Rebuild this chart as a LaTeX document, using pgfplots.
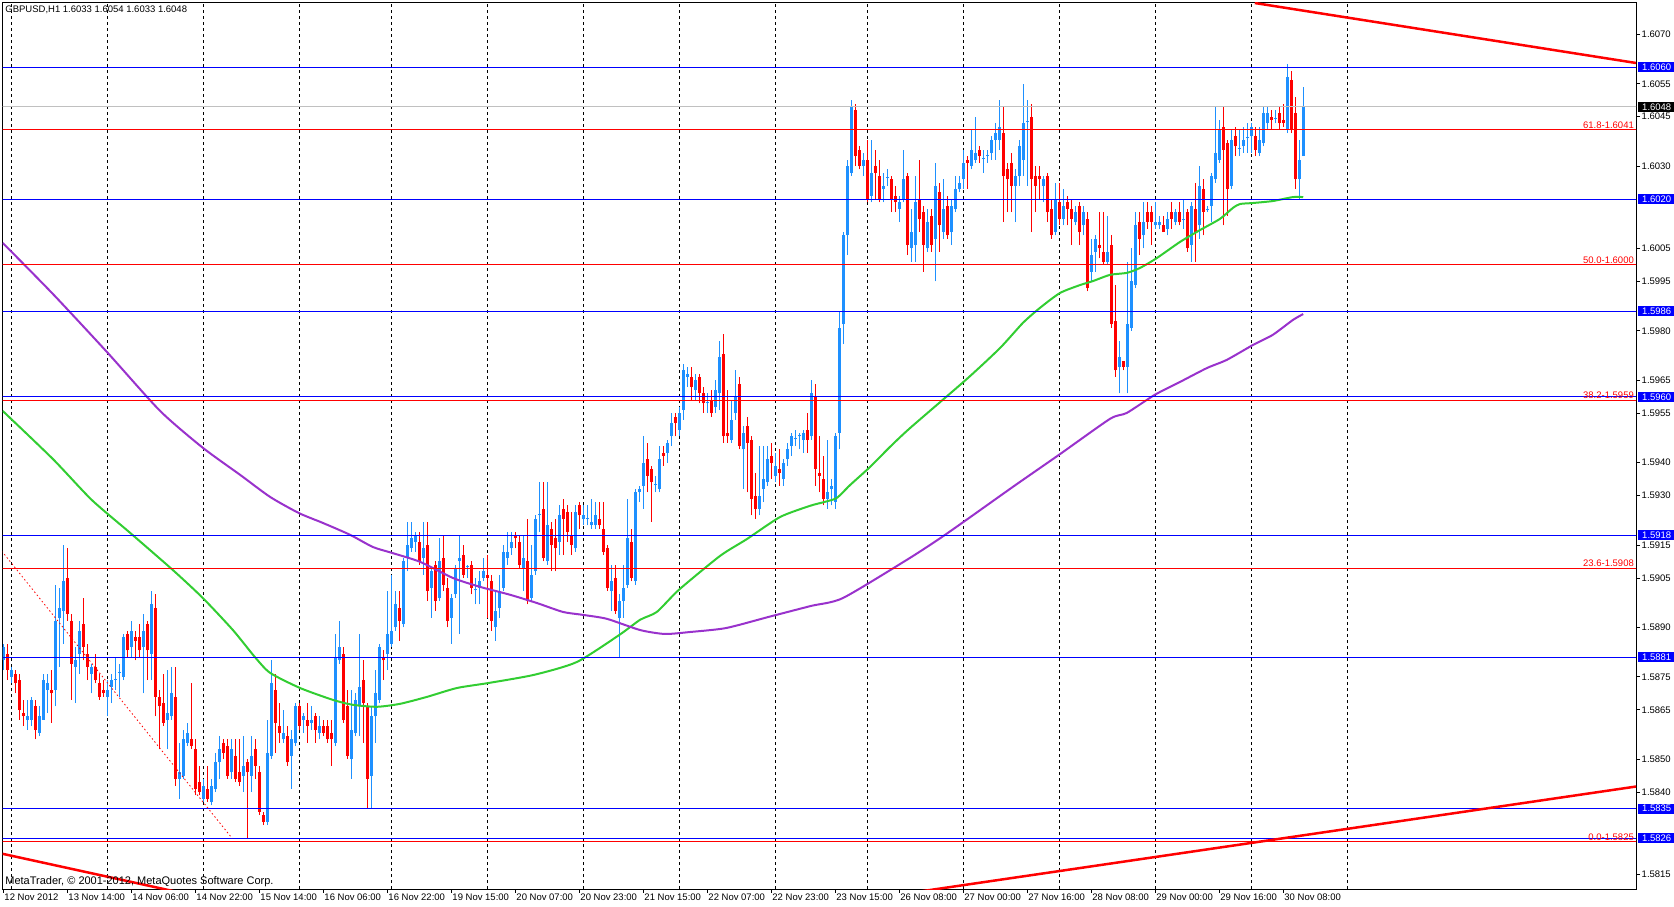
\documentclass[border=0pt]{standalone}
\usepackage{pgfplots}
\pgfplotsset{compat=1.18}
\usepackage{pgfplotstable}
\usepackage{fontspec}
\setmainfont{Liberation Sans}
\definecolor{upc}{RGB}{30,144,255}
\definecolor{dnc}{RGB}{255,0,0}
\definecolor{lvblue}{RGB}{0,0,255}
\definecolor{magreen}{RGB}{50,205,50}
\definecolor{mapurple}{RGB}{153,50,204}
\definecolor{bidgrey}{RGB}{192,192,192}
\newcommand\mtfont{\fontsize{9.5}{10}\selectfont}

\pgfplotstableread{
i o h l c
0 1.5880 1.5885 1.5877 1.5884
2 1.5875 1.5878 1.5873 1.5877
6 1.5862 1.5868 1.5859 1.5863
7 1.5862 1.5869 1.5860 1.5868
9 1.5858 1.5866 1.5857 1.5863
10 1.5862 1.5876 1.5862 1.5874
11 1.5871 1.5876 1.5864 1.5873
13 1.5871 1.5903 1.5866 1.5892
14 1.5893 1.5902 1.5878 1.5896
15 1.5895 1.5915 1.5885 1.5904
18 1.5878 1.5884 1.5867 1.5880
19 1.5882 1.5892 1.5876 1.5889
22 1.5876 1.5879 1.5870 1.5878
26 1.5869 1.5874 1.5863 1.5871
27 1.5872 1.5876 1.5867 1.5874
28 1.58741 1.5881 1.5871 1.58744
29 1.58763 1.5879 1.5869 1.58766
30 1.5875 1.5888 1.5874 1.5887
32 1.5884 1.5892 1.5881 1.5889
35 1.5884 1.5894 1.5870 1.5889
37 1.5882 1.5901 1.5874 1.5897
41 1.5862 1.5877 1.5853 1.5864
42 1.5863 1.5878 1.5862 1.5870
44 1.5844 1.5855 1.5838 1.5846
45 1.5845 1.5859 1.5844 1.5856
46 1.5855 1.5861 1.5854 1.5858
50 1.5838 1.5844 1.5837 1.5842
52 1.5837 1.5844 1.5836 1.5842
53 1.5841 1.5852 1.5840 1.5849
54 1.5849 1.5857 1.5844 1.5853
57 1.5846 1.5856 1.5844 1.5853
60 1.5845 1.5857 1.5840 1.5848
62 1.5845 1.5857 1.5840 1.5851
66 1.5831 1.5862 1.5830 1.5852
67 1.5851 1.5880 1.5850 1.5873
70 1.5856 1.5865 1.5855 1.5858
72 1.5851 1.5859 1.5841 1.5856
73 1.5855 1.5867 1.5854 1.5866
75 1.5862 1.5864 1.5858 1.5863
77 1.5861 1.5866 1.5859 1.5862
79 1.5858 1.5863 1.5856 1.5860
83 1.5855 1.5888 1.5854 1.5881
84 1.5880 1.5892 1.5879 1.5884
87 1.5850 1.5871 1.5844 1.5859
88 1.5858 1.5870 1.5857 1.5868
89 1.5866 1.5888 1.5857 1.5872
92 1.5845 1.5866 1.5835 1.5863
93 1.5863 1.5877 1.5855 1.5870
94 1.5868 1.5885 1.5867 1.5884
96 1.5882 1.5901 1.5877 1.5888
97 1.5885 1.5906 1.5884 1.5889
98 1.5890 1.5901 1.5889 1.5897
100 1.5891 1.5911 1.5890 1.5910
101 1.5911 1.5922 1.5907 1.5915
102 1.5914 1.5922 1.5913 1.5917
103 1.5916 1.5919 1.5913 1.5918
105 1.5911 1.5922 1.5906 1.5914
107 1.5902 1.5908 1.5893 1.5907
109 1.5899 1.5917 1.5898 1.5910
112 1.5893 1.5900 1.5885 1.5899
113 1.5900 1.5909 1.5899 1.5908
114 1.5910 1.5918 1.5888 1.5911
116 1.59083 1.5909 1.5905 1.59086
118 1.59012 1.5905 1.5897 1.59016
119 1.5902 1.5907 1.5897 1.5904
120 1.5905 1.5911 1.5904 1.5907
123 1.5890 1.5901 1.5886 1.5895
124 1.5896 1.5906 1.5893 1.5901
125 1.5902 1.5915 1.5901 1.5913
126 1.5911 1.5919 1.5909 1.5913
127 1.5914 1.5919 1.5912 1.5916
130 1.5908 1.5918 1.5901 1.5911
132 1.5899 1.5915 1.5898 1.5906
133 1.5907 1.5924 1.5906 1.5923
134 1.59241 1.5934 1.5919 1.59244
136 1.5910 1.5934 1.5909 1.5921
139 1.5916 1.5927 1.5912 1.5924
143 1.5914 1.5927 1.5913 1.5925
145 1.5923 1.5927 1.5921 1.5924
146 1.59230 1.5927 1.5921 1.59233
147 1.5921 1.5929 1.5920 1.5922
148 1.5921 1.5928 1.5920 1.5924
152 1.5901 1.5909 1.5895 1.5904
154 1.5893 1.5900 1.5881 1.5898
155 1.5898 1.5909 1.5893 1.5902
156 1.5903 1.5929 1.5902 1.5917
158 1.5904 1.5932 1.5903 1.5931
159 1.5931 1.5933 1.5928 1.5932
160 1.5933 1.5948 1.5926 1.5940
163 1.59332 1.5936 1.5931 1.59335
164 1.5932 1.5945 1.5931 1.5941
166 1.5943 1.5947 1.5940 1.5946
167 1.5948 1.5955 1.5945 1.5952
169 1.5950 1.5957 1.5948 1.5955
170 1.5956 1.5970 1.5953 1.5968
171 1.5966 1.5969 1.5963 1.5967
173 1.5962 1.5967 1.5959 1.5965
176 1.59580 1.5961 1.5955 1.59583
178 1.5957 1.5965 1.5955 1.5962
179 1.5961 1.5977 1.5956 1.5972
182 1.5947 1.5959 1.5946 1.5953
183 1.5955 1.5968 1.5953 1.5960
185 1.5944 1.5951 1.5932 1.5949
189 1.5926 1.5945 1.5924 1.5930
190 1.5932 1.5945 1.5928 1.5935
191 1.5934 1.5945 1.5933 1.5941
193 1.5936 1.5943 1.5934 1.5939
195 1.5935 1.5941 1.5933 1.5940
196 1.5941 1.5946 1.5939 1.5944
197 1.5945 1.5949 1.5942 1.5948
198 1.59471 1.5950 1.5945 1.59474
199 1.59480 1.5949 1.5944 1.59483
200 1.5947 1.5950 1.5943 1.5949
202 1.5948 1.5965 1.5947 1.5961
206 1.5929 1.5947 1.5926 1.5931
207 1.5932 1.5935 1.5927 1.5933
208 1.5928 1.5949 1.5926 1.5948
209 1.5949 1.5986 1.5944 1.5981
210 1.5982 1.6010 1.5976 1.6009
211 1.6009 1.6032 1.6003 1.6030
212 1.6028 1.6050 1.6027 1.6048
215 1.6030 1.6034 1.6027 1.6032
217 1.6021 1.6038 1.6019 1.6028
220 1.6023 1.6028 1.6019 1.6024
221 1.60265 1.6029 1.6024 1.60268
224 1.6017 1.6021 1.6013 1.6019
225 1.6020 1.6035 1.6019 1.6026
227 1.6005 1.6017 1.6001 1.6010
228 1.6006 1.6027 1.6001 1.6019
231 1.6005 1.6017 1.6004 1.6013
233 1.6008 1.6031 1.5995 1.6024
235 1.6010 1.6026 1.6008 1.6017
237 1.6010 1.6020 1.6006 1.6018
238 1.6017 1.6027 1.6016 1.6023
239 1.6023 1.6027 1.6022 1.6025
240 1.6026 1.6035 1.6023 1.6031
242 1.6030 1.6041 1.6029 1.6035
243 1.6032 1.6045 1.6031 1.6034
245 1.60322 1.6035 1.6028 1.60325
246 1.60332 1.6035 1.6031 1.60335
247 1.6034 1.6039 1.6032 1.6038
248 1.6038 1.6043 1.6032 1.6040
249 1.6038 1.6050 1.6035 1.6042
253 1.6024 1.6029 1.6013 1.6027
254 1.6027 1.6038 1.6024 1.6036
255 1.6032 1.6055 1.6027 1.6043
256 1.60434 1.6050 1.6024 1.60437
260 1.6024 1.6027 1.6019 1.6026
263 1.6010 1.6025 1.6009 1.6020
265 1.6014 1.6023 1.6012 1.6018
268 1.6013 1.6018 1.6012 1.6016
270 1.6012 1.6018 1.6009 1.6016
272 1.5998 1.6008 1.5995 1.6003
273 1.6004 1.6009 1.5998 1.6008
276 1.6001 1.6015 1.6000 1.6004
279 1.5969 1.5977 1.5961 1.5972
281 1.5969 1.6001 1.5961 1.5982
282 1.5981 1.6005 1.5980 1.5995
283 1.5994 1.6016 1.5993 1.6012
285 1.6009 1.6019 1.6005 1.6013
288 1.6012 1.6019 1.6011 1.6013
289 1.6012 1.6015 1.6011 1.6013
291 1.6011 1.6016 1.6009 1.6014
293 1.6013 1.6017 1.6012 1.6016
295 1.60136 1.6020 1.6011 1.60139
297 1.6006 1.6019 1.6001 1.6018
299 1.6012 1.6030 1.6008 1.6024
301 1.60166 1.6018 1.6016 1.60169
302 1.6018 1.6028 1.6013 1.6027
303 1.6026 1.6048 1.6025 1.6034
304 1.6032 1.6044 1.6031 1.6041
307 1.6024 1.6041 1.6023 1.6038
309 1.60353 1.6041 1.6033 1.60356
310 1.6036 1.6042 1.6034 1.6038
311 1.60384 1.6043 1.6034 1.60387
312 1.6039 1.6043 1.6034 1.6042
314 1.6034 1.6042 1.6033 1.6038
315 1.6037 1.6048 1.6036 1.6046
316 1.6043 1.6048 1.6041 1.6046
318 1.60443 1.6047 1.6043 1.60446
321 1.6041 1.6061 1.6040 1.6057
324 1.6026 1.6038 1.6020 1.6032
325 1.6033 1.6054 1.6033 1.6048
}\uptab

\pgfplotstableread{
i o h l c
1 1.5882 1.5885 1.5874 1.5877
3 1.5876 1.5877 1.5870 1.5873
4 1.5874 1.5876 1.5862 1.5865
5 1.5864 1.5868 1.5860 1.5863
8 1.5866 1.5868 1.5856 1.5859
12 1.5871 1.5877 1.5861 1.5870
16 1.5905 1.5914 1.5892 1.5894
17 1.5892 1.5894 1.5868 1.5879
20 1.5891 1.5899 1.5880 1.5884
21 1.5882 1.5885 1.5874 1.5878
23 1.5878 1.5882 1.5873 1.5874
24 1.5873 1.5876 1.5868 1.5869
25 1.5871 1.5874 1.5869 1.5870
31 1.5888 1.5889 1.5881 1.5883
33 1.5887 1.5889 1.5880 1.5886
34 1.5887 1.5891 1.5881 1.5883
36 1.5891 1.5892 1.5874 1.5883
38 1.5896 1.5900 1.5863 1.5869
39 1.5869 1.5871 1.5853 1.5866
40 1.5867 1.5876 1.5860 1.5861
43 1.5869 1.5878 1.5842 1.5844
47 1.5856 1.5873 1.5853 1.5854
48 1.5853 1.5856 1.5839 1.5841
49 1.5843 1.5848 1.5839 1.5840
51 1.5841 1.5848 1.5837 1.5838
55 1.5855 1.5856 1.5850 1.5852
56 1.5854 1.5856 1.5844 1.5845
58 1.5851 1.5856 1.5843 1.5844
59 1.5846 1.5856 1.5842 1.5843
61 1.5849 1.5850 1.5826 1.5846
63 1.5853 1.5856 1.5844 1.5848
64 1.5846 1.5848 1.5833 1.5834
65 1.5833 1.5834 1.5830 1.5831
68 1.5871 1.5876 1.5852 1.5861
69 1.5860 1.5867 1.5855 1.5858
71 1.5857 1.5860 1.5848 1.5849
74 1.5866 1.5867 1.5859 1.5860
76 1.5862 1.5867 1.5855 1.5860
78 1.5863 1.5864 1.5855 1.5859
80 1.5860 1.5862 1.5857 1.5858
81 1.5860 1.5862 1.5855 1.5856
82 1.5858 1.5862 1.5848 1.5856
85 1.5882 1.5884 1.5861 1.5862
86 1.5866 1.5871 1.5850 1.5851
90 1.5874 1.5880 1.5855 1.5867
91 1.5866 1.5867 1.5835 1.5844
95 1.5881 1.5883 1.5874 1.5880
99 1.5896 1.5901 1.5886 1.5892
104 1.5916 1.5919 1.5909 1.5910
106 1.5915 1.5922 1.5898 1.5901
108 1.5909 1.5910 1.5895 1.5898
110 1.5911 1.5918 1.5901 1.5903
111 1.5902 1.5905 1.5890 1.5892
115 1.5912 1.5915 1.5905 1.5906
117 1.5909 1.5910 1.5900 1.5902
121 1.5906 1.5912 1.5893 1.5905
122 1.5904 1.5906 1.5889 1.5892
128 1.5918 1.5919 1.5914 1.5917
129 1.5916 1.5918 1.5908 1.5909
131 1.5910 1.5923 1.5897 1.5898
135 1.5926 1.5934 1.5910 1.5911
137 1.5920 1.5922 1.5907 1.5915
138 1.5917 1.5923 1.5907 1.5914
140 1.5926 1.5929 1.5912 1.5923
141 1.5925 1.5927 1.5916 1.5919
142 1.5918 1.5925 1.5912 1.5915
144 1.5927 1.5928 1.5920 1.5924
149 1.5923 1.5928 1.5920 1.5921
150 1.5920 1.5928 1.5912 1.5913
151 1.5914 1.5915 1.5901 1.5902
153 1.5905 1.5909 1.5894 1.5895
157 1.5916 1.5920 1.5904 1.5905
161 1.5941 1.5946 1.5931 1.5936
162 1.5938 1.5939 1.5922 1.5934
165 1.5943 1.5945 1.5939 1.5942
168 1.5954 1.5955 1.5948 1.5952
172 1.5966 1.5969 1.5959 1.5963
174 1.5966 1.5967 1.5958 1.5961
175 1.5961 1.5963 1.5955 1.5958
177 1.5959 1.5962 1.5954 1.5955
180 1.5973 1.5979 1.5946 1.5948
181 1.5949 1.5962 1.5946 1.5948
184 1.5964 1.5966 1.5944 1.5945
186 1.5951 1.5954 1.5931 1.5946
187 1.5947 1.5948 1.5924 1.5929
188 1.5930 1.5937 1.5923 1.5926
192 1.5942 1.5946 1.5935 1.5940
194 1.5938 1.5944 1.5933 1.5937
201 1.5950 1.5955 1.5943 1.5947
203 1.5960 1.5964 1.5933 1.5938
204 1.5937 1.5948 1.5931 1.5936
205 1.5935 1.5942 1.5927 1.5929
213 1.6047 1.6049 1.6030 1.6033
214 1.6035 1.6036 1.6029 1.6030
216 1.6032 1.6038 1.6019 1.6020
218 1.6030 1.6035 1.6020 1.6028
219 1.6027 1.6032 1.6019 1.6020
222 1.6026 1.6027 1.6016 1.6020
223 1.6021 1.6024 1.6016 1.6019
226 1.6027 1.6028 1.6003 1.6006
229 1.6020 1.6032 1.6010 1.6014
230 1.6016 1.6018 1.5998 1.6006
232 1.6015 1.6017 1.6004 1.6006
234 1.6022 1.6025 1.6004 1.6012
236 1.6018 1.6021 1.6008 1.6009
241 1.6032 1.6033 1.6023 1.6031
244 1.6035 1.6036 1.6031 1.6033
250 1.6040 1.6048 1.6013 1.6027
251 1.6029 1.6031 1.6016 1.6026
252 1.6031 1.6034 1.6016 1.6024
257 1.6045 1.6049 1.6010 1.6026
258 1.6027 1.6030 1.6016 1.6024
259 1.6027 1.6030 1.6020 1.6026
261 1.6027 1.6028 1.6013 1.6016
262 1.6017 1.6020 1.6008 1.6009
264 1.6019 1.6025 1.6012 1.6014
266 1.6019 1.6021 1.6012 1.6017
267 1.6017 1.6020 1.6006 1.6014
269 1.6018 1.6019 1.6006 1.6010
271 1.6014 1.6016 1.5992 1.5993
274 1.6006 1.6016 1.6002 1.6005
275 1.6004 1.6016 1.6000 1.6001
277 1.6006 1.6009 1.5981 1.5982
278 1.5983 1.5994 1.5966 1.5968
280 1.5971 1.5971 1.5968 1.5969
284 1.6013 1.6016 1.6003 1.6008
286 1.6016 1.6019 1.6011 1.6013
287 1.6016 1.6018 1.6006 1.6013
290 1.6012 1.6015 1.6010 1.6010
292 1.6016 1.6019 1.6011 1.6014
294 1.6016 1.6019 1.6012 1.6013
296 1.6016 1.6017 1.6004 1.6005
298 1.6017 1.6025 1.6001 1.6010
300 1.6023 1.6026 1.6009 1.6016
305 1.6042 1.6048 1.6012 1.6035
306 1.6037 1.6038 1.6015 1.6023
308 1.6039 1.6042 1.6033 1.6036
313 1.6039 1.6042 1.6033 1.6035
317 1.6045 1.6047 1.6041 1.6044
319 1.6046 1.6048 1.6041 1.6043
320 1.6044 1.6049 1.6042 1.6043
322 1.6056 1.6059 1.6040 1.6041
323 1.6046 1.6051 1.6023 1.6026
}\dntab

\begin{document}
\begin{tikzpicture}[x=1pt,y=1pt]
\useasboundingbox (0,0) rectangle (1674,906);
\begin{axis}[
  at={(2.7pt,17pt)}, anchor=south west,
  scale only axis, width=1633.3pt, height=886.3pt,
  xmin=-0.15, xmax=408.2, ymin=1.58106, ymax=1.60796,
  clip mode=individual,
  axis line style={black, line width=1pt},
  xtick={0,16,...,320},
  xticklabels={12 Nov 2012,13 Nov 14:00,14 Nov 06:00,14 Nov 22:00,15 Nov 14:00,16 Nov 06:00,16 Nov 22:00,19 Nov 15:00,20 Nov 07:00,20 Nov 23:00,21 Nov 15:00,22 Nov 07:00,22 Nov 23:00,23 Nov 15:00,26 Nov 08:00,27 Nov 00:00,27 Nov 16:00,28 Nov 08:00,29 Nov 00:00,29 Nov 16:00,30 Nov 08:00},
  xtick pos=bottom, ytick pos=right,
  tick align=outside, major tick length=4pt,
  tick style={black, line width=0.8pt},
  xticklabel style={anchor=north west, inner sep=0pt, xshift=1pt, yshift=-1pt, font=\mtfont},
  ytick={1.6070,1.6055,1.6045,1.6030,1.6005,1.5995,1.5980,1.5965,1.5955,1.5940,1.5930,1.5915,1.5905,1.5890,1.5875,1.5865,1.5850,1.5840,1.5815},
  yticklabel pos=right,
  yticklabel style={anchor=west, inner sep=0pt, xshift=1.5pt, font=\mtfont,
    /pgf/number format/.cd, fixed, fixed zerofill, precision=4, assume math mode=true},
  scaled y ticks=false,
  extra x ticks={2,26,50,74,97,121,145,169,193,216,240,264,288,312,336},
  extra x tick labels={},
  extra x tick style={grid=major, major tick length=0pt,
    major grid style={black, line width=0.8pt, dash pattern=on 3pt off 3pt}},
]
% candles: wicks
\addplot[draw=none, mark=none, forget plot,
  error bars/.cd, y dir=plus, y explicit, error mark=none,
  error bar style={draw=upc, line width=1pt, solid}]
  table[x=i, y=l, y error plus expr=\thisrow{h}-\thisrow{l}] {\uptab};
\addplot[draw=none, mark=none, forget plot,
  error bars/.cd, y dir=plus, y explicit, error mark=none,
  error bar style={draw=dnc, line width=1pt, solid}]
  table[x=i, y=l, y error plus expr=\thisrow{h}-\thisrow{l}] {\dntab};
% candles: bodies
\addplot[draw=none, mark=none, forget plot,
  error bars/.cd, y dir=plus, y explicit, error mark=none,
  error bar style={draw=upc, line width=3pt, solid, line cap=butt}]
  table[x=i, y=o, y error plus expr=\thisrow{c}-\thisrow{o}] {\uptab};
\addplot[draw=none, mark=none, forget plot,
  error bars/.cd, y dir=plus, y explicit, error mark=none,
  error bar style={draw=dnc, line width=3pt, solid, line cap=butt}]
  table[x=i, y=c, y error plus expr=\thisrow{o}-\thisrow{c}] {\dntab};

% moving averages
\addplot[magreen, line width=2pt, mark=none, smooth, tension=0.4] coordinates {
(-0.15,1.59557) (12.4,1.59411) (22.1,1.59287) (31.7,1.59187) (42.4,1.59074) (49.9,1.58989)
(57.4,1.58892) (62.9,1.58810) (66.7,1.58762) (74.2,1.58716) (82.4,1.58680) (87.4,1.58665)
(93.4,1.58659) (99.2,1.58668) (105.9,1.58689) (113.4,1.58716) (121.2,1.58731) (132.7,1.58756)
(143.4,1.58795) (154.0,1.58877) (159.2,1.58923) (163.4,1.58947) (168.9,1.59014) (179.2,1.59117)
(185.9,1.59168) (194.2,1.59235) (201.7,1.59269) (205.4,1.59281) (208.4,1.59293) (211.7,1.59332)
(216.7,1.59387) (221.7,1.59448) (226.7,1.59505) (240.9,1.59654) (249.2,1.59748) (254.9,1.59824)
(259.2,1.59870) (264.2,1.59915) (269.2,1.59939) (272.4,1.59951) (276.7,1.59970) (280.9,1.59976)
(284.2,1.59991) (288.4,1.60021) (294.2,1.60070) (299.2,1.60106) (304.2,1.60140) (307.4,1.60173)
(309.2,1.60185) (312.4,1.60188) (317.4,1.60194) (322.4,1.60206) (325,1.60206)};
\addplot[mapurple, line width=2pt, mark=none, smooth, tension=0.4] coordinates {
(-0.15,1.60067) (12.4,1.59912) (25.9,1.59736) (39.2,1.59557) (49.9,1.59445) (59.2,1.59363)
(66.7,1.59296) (73.9,1.59247) (79.9,1.59217) (86.7,1.59181) (92.4,1.59144) (97.2,1.59126)
(104.2,1.59099) (112.4,1.59050) (119.2,1.59023) (126.7,1.58999) (133.4,1.58974) (139.9,1.58947)
(144.9,1.58938) (150.9,1.58926) (159.2,1.58892) (165.4,1.58880) (171.7,1.58886) (180.7,1.58898)
(191.4,1.58932) (201.9,1.58965) (209.9,1.58989) (225.9,1.59105) (233.9,1.59168) (240.4,1.59223)
(252.7,1.59329) (264.2,1.59426) (276.7,1.59533) (280.9,1.59551) (287.9,1.59606) (294.2,1.59645)
(300.9,1.59687) (305.9,1.59712) (312.4,1.59757) (317.4,1.59788) (322.4,1.59833) (325,1.59851)};

% horizontal levels
\addplot[bidgrey, line width=1pt] coordinates {(-1,1.6048) (409,1.6048)};
\addplot[red, line width=1pt] coordinates {(-1,1.6041) (409,1.6041)};
\addplot[red, line width=1pt] coordinates {(-1,1.6000) (409,1.6000)};
\addplot[red, line width=1pt] coordinates {(-1,1.5959) (409,1.5959)};
\addplot[red, line width=1pt] coordinates {(-1,1.5908) (409,1.5908)};
\addplot[red, line width=1pt] coordinates {(-1,1.5825) (409,1.5825)};
\addplot[lvblue, line width=1pt] coordinates {(-1,1.6060) (409,1.6060)};
\addplot[lvblue, line width=1pt] coordinates {(-1,1.6020) (409,1.6020)};
\addplot[lvblue, line width=1pt] coordinates {(-1,1.5986) (409,1.5986)};
\addplot[lvblue, line width=1pt] coordinates {(-1,1.5960) (409,1.5960)};
\addplot[lvblue, line width=1pt] coordinates {(-1,1.5918) (409,1.5918)};
\addplot[lvblue, line width=1pt] coordinates {(-1,1.5881) (409,1.5881)};
\addplot[lvblue, line width=1pt] coordinates {(-1,1.5835) (409,1.5835)};
\addplot[lvblue, line width=1pt] coordinates {(-1,1.5826) (409,1.5826)};

% trend lines
\addplot[red, line width=2.5pt] coordinates {(312.9,1.60795) (408.2,1.60613)};
\addplot[red, line width=2.5pt] coordinates {(-1,1.58215) (45,1.58093)};
\addplot[red, line width=2.5pt] coordinates {(225,1.58091) (408.2,1.58417)};
\addplot[red, line width=0.8pt, dash pattern=on 1.5pt off 2.5pt] coordinates {(-1,1.59141) (57.2,1.5826)};

% fibonacci labels
\foreach \lv/\tx in {1.6041/61.8-1.6041, 1.6000/50.0-1.6000, 1.5959/38.2-1.5959, 1.5908/23.6-1.5908, 1.5825/0.0-1.5825}{
  \edef\tmp{\noexpand\node[anchor=south east, text=red, font=\noexpand\mtfont, inner sep=0pt]
    at ([xshift=-2pt, yshift=1pt]axis cs:408.2,\lv) {\tx};}\tmp
}
% right-side price boxes
\foreach \lv in {1.6060,1.6020,1.5986,1.5960,1.5918,1.5881,1.5835,1.5826}{
  \edef\tmp{\noexpand\node[anchor=west, fill=lvblue, text=white, font=\noexpand\mtfont,
    inner xsep=4pt, inner ysep=0pt, minimum height=10pt, text width=30pt, align=left]
    at ([xshift=2pt]axis cs:408.2,\lv) {\lv};}\tmp
}
\node[anchor=west, fill=black, text=white, font=\mtfont,
    inner xsep=4pt, inner ysep=0pt, minimum height=10pt, text width=30pt, align=left]
    at ([xshift=2pt]axis cs:408.2,1.6048) {1.6048};

\node[anchor=north west, font=\mtfont, inner sep=0pt] at ([xshift=2.5pt, yshift=-3pt]rel axis cs:0,1)
  {GBPUSD,H1 1.6033 1.6054 1.6033 1.6048};
\node[anchor=base west, font=\fontsize{11}{12}\selectfont, inner sep=0pt] at ([xshift=2.5pt, yshift=5pt]rel axis cs:0,0)
  {MetaTrader, © 2001-2012, MetaQuotes Software Corp.};
\end{axis}
\end{tikzpicture}
\end{document}
